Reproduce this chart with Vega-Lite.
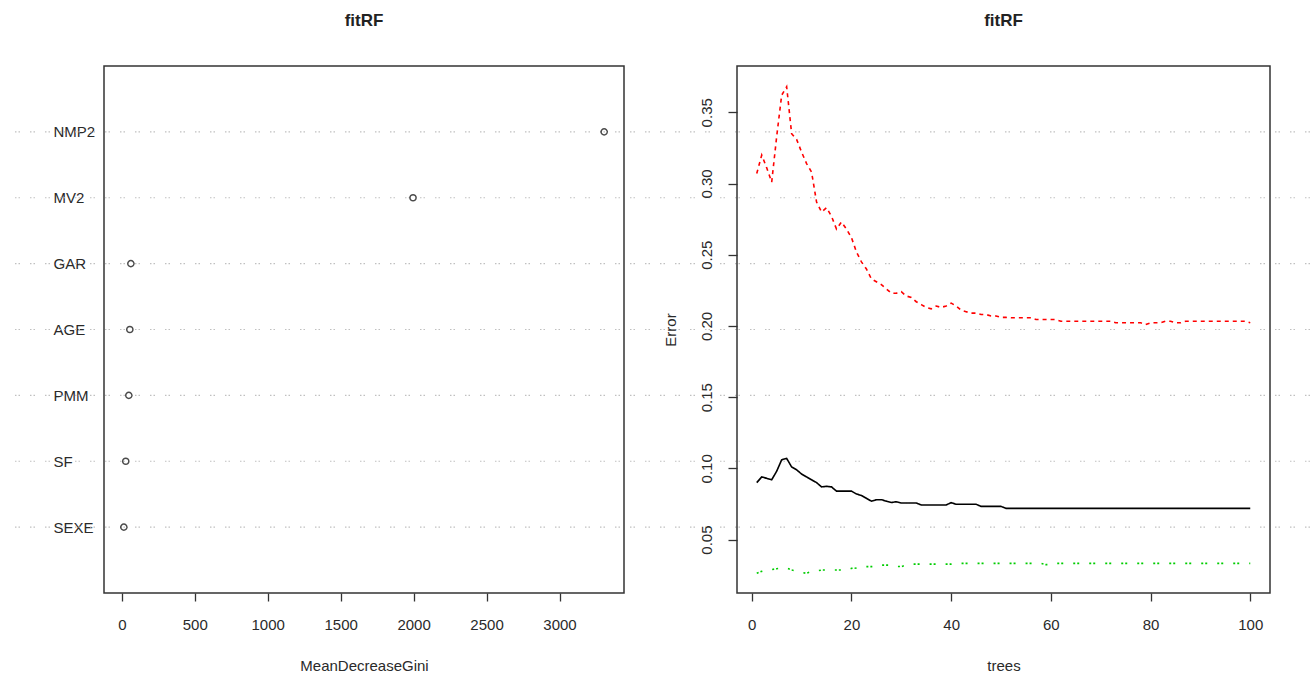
{
  "$schema": "https://vega.github.io/schema/vega-lite/v6.json",
  "padding": {"left": 13, "top": 11, "right": 0, "bottom": 0},
  "autosize": {"type": "pad"},
  "bounds": "flush",
  "spacing": 113,
  "config": {
    "background": "white",
    "view": {"stroke": "#333333", "strokeWidth": 1.5},
    "title": {"font": "Liberation Sans", "fontSize": 17, "fontWeight": "bold", "color": "#222222"},
    "axis": {"domain": false, "grid": false, "tickColor": "#333333", "tickWidth": 1.3, "tickSize": 8,
      "labelFont": "Liberation Sans", "labelFontSize": 15, "labelColor": "#2a2a2a",
      "titleFont": "Liberation Sans", "titleFontSize": 15, "titleFontWeight": "normal", "titleColor": "#2a2a2a",
      "labelPadding": 16, "titlePadding": 26}
  },
  "hconcat": [
    {
      "width": 520,
      "height": 527,
      "title": {"text": "fitRF", "anchor": "middle", "frame": "group", "offset": 36},
      "data": {"values": [
        {"var": "NMP2", "MeanDecreaseGini": 3306},
        {"var": "MV2", "MeanDecreaseGini": 1996},
        {"var": "GAR", "MeanDecreaseGini": 62},
        {"var": "AGE", "MeanDecreaseGini": 55},
        {"var": "PMM", "MeanDecreaseGini": 48},
        {"var": "SF", "MeanDecreaseGini": 27},
        {"var": "SEXE", "MeanDecreaseGini": 14}
      ]},
      "layer": [
        {
          "mark": {"type": "rule", "clip": false, "color": "#c0c0c0", "strokeDash": [1.5, 2, 1.5, 10], "strokeWidth": 1.2},
          "encoding": {
            "y": {"field": "var", "type": "nominal", "sort": ["NMP2", "MV2", "GAR", "AGE", "PMM", "SF", "SEXE"],
              "scale": {"type": "point", "padding": 1},
              "axis": {"title": null, "ticks": false, "tickSize": 0, "labelAlign": "left", "labelPadding": 51, "labelBaseline": "middle", "labelAngle": 0}},
            "x": {"datum": -732, "type": "quantitative", "title": "MeanDecreaseGini",
              "scale": {"domain": [-122, 3442], "nice": false, "zero": false},
              "axis": {"values": [0, 500, 1000, 1500, 2000, 2500, 3000], "format": "d", "title": "MeanDecreaseGini"}},
            "x2": {"datum": 8150}
          }
        },
        {
          "mark": {"type": "point", "filled": false, "color": "#000000", "size": 38, "strokeWidth": 1.5},
          "encoding": {
            "y": {"field": "var", "type": "nominal", "sort": ["NMP2", "MV2", "GAR", "AGE", "PMM", "SF", "SEXE"],
              "scale": {"type": "point", "padding": 1},
              "axis": {"title": null, "ticks": false, "tickSize": 0, "labelAlign": "left", "labelPadding": 51, "labelBaseline": "middle", "labelAngle": 0}},
            "x": {"field": "MeanDecreaseGini", "type": "quantitative", "title": "MeanDecreaseGini",
              "scale": {"domain": [-122, 3442], "nice": false, "zero": false},
              "axis": {"values": [0, 500, 1000, 1500, 2000, 2500, 3000], "format": "d", "title": "MeanDecreaseGini"}}
          }
        }
      ]
    },
    {
      "width": 533,
      "height": 527,
      "title": {"text": "fitRF", "anchor": "middle", "frame": "group", "offset": 36},
      "data": {"values": [
        {"t": 1, "OOB": 0.090, "1": 0.307, "0": 0.0263},
        {"t": 2, "OOB": 0.094, "1": 0.320, "0": 0.0277},
        {"t": 3, "OOB": 0.093, "1": 0.311, "0": 0.0285},
        {"t": 4, "OOB": 0.092, "1": 0.301, "0": 0.0290},
        {"t": 5, "OOB": 0.098, "1": 0.333, "0": 0.0295},
        {"t": 6, "OOB": 0.106, "1": 0.362, "0": 0.0300},
        {"t": 7, "OOB": 0.107, "1": 0.368, "0": 0.0300},
        {"t": 8, "OOB": 0.101, "1": 0.335, "0": 0.0286},
        {"t": 9, "OOB": 0.099, "1": 0.331, "0": 0.0280},
        {"t": 10, "OOB": 0.096, "1": 0.322, "0": 0.0270},
        {"t": 11, "OOB": 0.094, "1": 0.314, "0": 0.0263},
        {"t": 12, "OOB": 0.092, "1": 0.308, "0": 0.0277},
        {"t": 13, "OOB": 0.090, "1": 0.287, "0": 0.0280},
        {"t": 14, "OOB": 0.087, "1": 0.280, "0": 0.0286},
        {"t": 15, "OOB": 0.0874, "1": 0.283, "0": 0.0286},
        {"t": 16, "OOB": 0.087, "1": 0.277, "0": 0.0286},
        {"t": 17, "OOB": 0.084, "1": 0.268, "0": 0.0286},
        {"t": 18, "OOB": 0.084, "1": 0.273, "0": 0.0286},
        {"t": 19, "OOB": 0.084, "1": 0.268, "0": 0.0286},
        {"t": 20, "OOB": 0.084, "1": 0.262, "0": 0.0298},
        {"t": 21, "OOB": 0.082, "1": 0.252, "0": 0.0300},
        {"t": 22, "OOB": 0.081, "1": 0.245, "0": 0.0310},
        {"t": 23, "OOB": 0.079, "1": 0.240, "0": 0.0310},
        {"t": 24, "OOB": 0.077, "1": 0.233, "0": 0.0310},
        {"t": 25, "OOB": 0.078, "1": 0.231, "0": 0.0321},
        {"t": 26, "OOB": 0.078, "1": 0.229, "0": 0.0321},
        {"t": 27, "OOB": 0.077, "1": 0.226, "0": 0.0321},
        {"t": 28, "OOB": 0.076, "1": 0.223, "0": 0.0321},
        {"t": 29, "OOB": 0.0766, "1": 0.223, "0": 0.0312},
        {"t": 30, "OOB": 0.0757, "1": 0.224, "0": 0.0310},
        {"t": 31, "OOB": 0.0757, "1": 0.221, "0": 0.0321},
        {"t": 32, "OOB": 0.0757, "1": 0.220, "0": 0.0328},
        {"t": 33, "OOB": 0.0757, "1": 0.217, "0": 0.0328},
        {"t": 34, "OOB": 0.0743, "1": 0.215, "0": 0.0328},
        {"t": 35, "OOB": 0.0743, "1": 0.213, "0": 0.0328},
        {"t": 36, "OOB": 0.0743, "1": 0.212, "0": 0.0328},
        {"t": 37, "OOB": 0.0743, "1": 0.214, "0": 0.0328},
        {"t": 38, "OOB": 0.0743, "1": 0.213, "0": 0.0328},
        {"t": 39, "OOB": 0.0743, "1": 0.214, "0": 0.0328},
        {"t": 40, "OOB": 0.0759, "1": 0.216, "0": 0.0328},
        {"t": 41, "OOB": 0.0748, "1": 0.214, "0": 0.0333},
        {"t": 42, "OOB": 0.0748, "1": 0.211, "0": 0.0333},
        {"t": 43, "OOB": 0.0748, "1": 0.210, "0": 0.0333},
        {"t": 44, "OOB": 0.0748, "1": 0.209, "0": 0.0333},
        {"t": 45, "OOB": 0.0748, "1": 0.209, "0": 0.0333},
        {"t": 46, "OOB": 0.0733, "1": 0.208, "0": 0.0333},
        {"t": 47, "OOB": 0.0733, "1": 0.208, "0": 0.0333},
        {"t": 48, "OOB": 0.0733, "1": 0.207, "0": 0.0333},
        {"t": 49, "OOB": 0.0733, "1": 0.207, "0": 0.0333},
        {"t": 50, "OOB": 0.0733, "1": 0.206, "0": 0.0333},
        {"t": 51, "OOB": 0.0719, "1": 0.206, "0": 0.0333},
        {"t": 52, "OOB": 0.0719, "1": 0.2057, "0": 0.0333},
        {"t": 53, "OOB": 0.0719, "1": 0.2057, "0": 0.0333},
        {"t": 54, "OOB": 0.0719, "1": 0.2057, "0": 0.0333},
        {"t": 55, "OOB": 0.0719, "1": 0.2057, "0": 0.0333},
        {"t": 56, "OOB": 0.0719, "1": 0.2057, "0": 0.0333},
        {"t": 57, "OOB": 0.0719, "1": 0.2045, "0": 0.0333},
        {"t": 58, "OOB": 0.0719, "1": 0.2045, "0": 0.0333},
        {"t": 59, "OOB": 0.0719, "1": 0.2045, "0": 0.0324},
        {"t": 60, "OOB": 0.0719, "1": 0.2045, "0": 0.0324},
        {"t": 61, "OOB": 0.0719, "1": 0.2045, "0": 0.0333},
        {"t": 62, "OOB": 0.0719, "1": 0.2033, "0": 0.0333},
        {"t": 63, "OOB": 0.0719, "1": 0.2033, "0": 0.0333},
        {"t": 64, "OOB": 0.0719, "1": 0.2033, "0": 0.0333},
        {"t": 65, "OOB": 0.0719, "1": 0.2033, "0": 0.0333},
        {"t": 66, "OOB": 0.0719, "1": 0.2033, "0": 0.0333},
        {"t": 67, "OOB": 0.0719, "1": 0.2033, "0": 0.0333},
        {"t": 68, "OOB": 0.0719, "1": 0.2033, "0": 0.0333},
        {"t": 69, "OOB": 0.0719, "1": 0.2033, "0": 0.0333},
        {"t": 70, "OOB": 0.0719, "1": 0.2033, "0": 0.0333},
        {"t": 71, "OOB": 0.0719, "1": 0.2033, "0": 0.0333},
        {"t": 72, "OOB": 0.0719, "1": 0.2033, "0": 0.0333},
        {"t": 73, "OOB": 0.0719, "1": 0.2022, "0": 0.0333},
        {"t": 74, "OOB": 0.0719, "1": 0.2022, "0": 0.0333},
        {"t": 75, "OOB": 0.0719, "1": 0.2022, "0": 0.0333},
        {"t": 76, "OOB": 0.0719, "1": 0.2022, "0": 0.0333},
        {"t": 77, "OOB": 0.0719, "1": 0.2022, "0": 0.0333},
        {"t": 78, "OOB": 0.0719, "1": 0.2022, "0": 0.0333},
        {"t": 79, "OOB": 0.0719, "1": 0.2010, "0": 0.0333},
        {"t": 80, "OOB": 0.0719, "1": 0.2022, "0": 0.0333},
        {"t": 81, "OOB": 0.0719, "1": 0.2022, "0": 0.0333},
        {"t": 82, "OOB": 0.0719, "1": 0.2022, "0": 0.0333},
        {"t": 83, "OOB": 0.0719, "1": 0.2033, "0": 0.0333},
        {"t": 84, "OOB": 0.0719, "1": 0.2033, "0": 0.0333},
        {"t": 85, "OOB": 0.0719, "1": 0.2022, "0": 0.0333},
        {"t": 86, "OOB": 0.0719, "1": 0.2022, "0": 0.0333},
        {"t": 87, "OOB": 0.0719, "1": 0.2033, "0": 0.0333},
        {"t": 88, "OOB": 0.0719, "1": 0.2033, "0": 0.0333},
        {"t": 89, "OOB": 0.0719, "1": 0.2033, "0": 0.0333},
        {"t": 90, "OOB": 0.0719, "1": 0.2033, "0": 0.0333},
        {"t": 91, "OOB": 0.0719, "1": 0.2033, "0": 0.0333},
        {"t": 92, "OOB": 0.0719, "1": 0.2033, "0": 0.0333},
        {"t": 93, "OOB": 0.0719, "1": 0.2033, "0": 0.0333},
        {"t": 94, "OOB": 0.0719, "1": 0.2033, "0": 0.0333},
        {"t": 95, "OOB": 0.0719, "1": 0.2033, "0": 0.0333},
        {"t": 96, "OOB": 0.0719, "1": 0.2033, "0": 0.0333},
        {"t": 97, "OOB": 0.0719, "1": 0.2033, "0": 0.0333},
        {"t": 98, "OOB": 0.0719, "1": 0.2033, "0": 0.0333},
        {"t": 99, "OOB": 0.0719, "1": 0.2033, "0": 0.0333},
        {"t": 100, "OOB": 0.0719, "1": 0.2022, "0": 0.0333}
      ]},
      "transform": [{"fold": ["OOB", "1", "0"], "as": ["series", "err"]}],
      "mark": {"type": "line", "strokeWidth": 1.6},
      "encoding": {
        "x": {"field": "t", "type": "quantitative",
          "scale": {"domain": [-2.96, 103.96], "nice": false, "zero": false},
          "axis": {"values": [0, 20, 40, 60, 80, 100], "title": "trees"}},
        "y": {"field": "err", "type": "quantitative",
          "scale": {"domain": [0.0125, 0.3825], "nice": false, "zero": false},
          "axis": {"values": [0.05, 0.10, 0.15, 0.20, 0.25, 0.30, 0.35], "format": ".2f", "title": "Error",
            "labelAngle": 270, "labelAlign": "center", "labelBaseline": "bottom", "tickSize": 9, "labelPadding": 14, "titlePadding": 21}},
        "color": {"field": "series", "type": "nominal",
          "scale": {"domain": ["OOB", "1", "0"], "range": ["#000000", "#FF0000", "#00CD00"]}, "legend": null},
        "strokeDash": {"field": "series", "type": "nominal",
          "scale": {"domain": ["OOB", "1", "0"], "range": [[1, 0], [4, 4], [2, 2, 2, 10]]}, "legend": null}
      }
    }
  ]
}
